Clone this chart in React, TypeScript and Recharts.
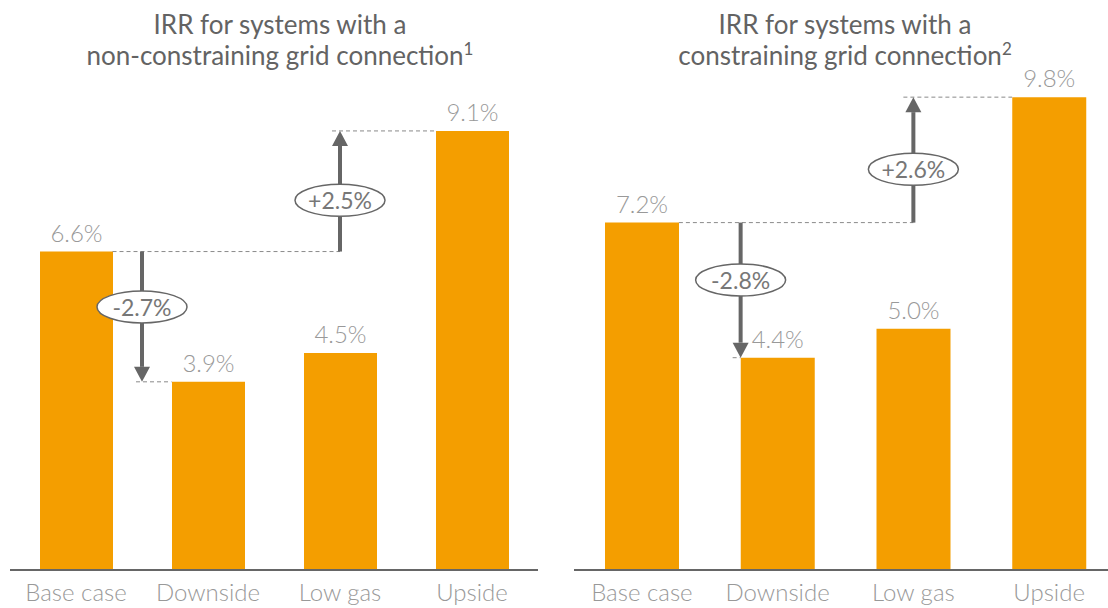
import React from 'react';
import { BarChart, Bar, XAxis, YAxis, ReferenceLine, LabelList } from 'recharts';

const categories = ['Base case', 'Downside', 'Low gas', 'Upside'];
const unconstrainedIrr = [6.6, 3.9, 4.5, 9.1];
const constrainedIrr = [7.2, 4.4, 5.0, 9.8];
const leftTitle = ['IRR for systems with a', 'non-constraining grid connection'];
const rightTitle = ['IRR for systems with a', 'constraining grid connection'];
const footnoteMarks = ['1', '2'];

const ORANGE = '#F49E00';
const DARK = '#666666';
const LABEL = '#999999';

const pct = (v: number) => `${v.toFixed(1)}%`;
const signedPct = (v: number) => `${v > 0 ? '+' : ''}${v.toFixed(1)}%`;

// dashed guide, optionally trimmed at either end so it stops at a bar edge
const Guide = ({ x1, y1, x2, dx1 = 0, dx2 = 0 }: any) => (
  <line
    x1={x1 + dx1}
    y1={y1}
    x2={x2 + dx2}
    y2={y1}
    stroke="#8a8a8a"
    strokeWidth={1}
    strokeDasharray="4 3"
  />
);

// vertical arrow between two levels with the change in an ellipse
const StepArrow = ({ x1, y1, y2, dx = 0, label }: any) => {
  const x = x1 + dx;
  const dir = y2 > y1 ? 1 : -1;
  const head = 15;
  const cy = y1 + (y2 - y1) * 0.425;
  return (
    <g>
      <line x1={x} y1={y1} x2={x} y2={y2 - dir * head} stroke={DARK} strokeWidth={4} />
      <polygon
        points={`${x - 8},${y2 - dir * head} ${x + 8},${y2 - dir * head} ${x},${y2}`}
        fill={DARK}
      />
      <ellipse cx={x} cy={cy} rx={45} ry={16} fill="#fff" stroke={DARK} strokeWidth={1.5} />
      <text
        x={x}
        y={cy}
        textAnchor="middle"
        dominantBaseline="central"
        fill="#777"
        fontSize={23}
        fontFamily="Lato"
      >
        {label}
      </text>
    </g>
  );
};

interface PanelProps {
  values: number[];
  title: string[];
  mark: string;
  left: number;
  titleCenter: number;
  margin: { top: number; right: number; left: number; bottom: number };
  barSize: number;
  variant: 'left' | 'right';
}

function Panel({ values, title, mark, left, titleCenter, margin, barSize, variant }: PanelProps) {
  const data = categories.map((name, i) => ({ name, irr: values[i] }));
  const [base, down, , up] = values;
  const half = barSize / 2;
  const downDelta = signedPct(Math.round((down - base) * 10) / 10);
  const upDelta = signedPct(Math.round((up - base) * 10) / 10);

  return (
    <>
      <div
        style={{
          position: 'absolute',
          left: titleCenter - 280,
          top: 9,
          width: 560,
          textAlign: 'center',
          fontFamily: 'Lato',
          fontSize: 26,
          fontWeight: 400,
          lineHeight: '31px',
          color: '#636363',
        }}
      >
        <div>{title[0]}</div>
        <div>
          {title[1]}
          <span style={{ fontSize: 17, position: 'relative', top: -10 }}>{mark}</span>
        </div>
      </div>
      <div style={{ position: 'absolute', left, top: 0 }}>
        <BarChart width={560} height={608} data={data} margin={margin}>
          <XAxis
            dataKey="name"
            height={38}
            interval={0}
            axisLine={{ stroke: DARK, strokeWidth: 2 }}
            tickLine={false}
            tickMargin={8}
            tick={{ fill: LABEL, fontSize: 24, fontFamily: 'Lato', fontWeight: 300 }}
          />
          <YAxis hide domain={[0, 10]} />
          <Bar dataKey="irr" fill={ORANGE} barSize={barSize} isAnimationActive={false}>
            <LabelList
              dataKey="irr"
              position="top"
              offset={10}
              formatter={(v: any) => pct(Number(v))}
              fill={LABEL}
              fontSize={24}
              fontFamily="Lato"
              fontWeight={300}
            />
          </Bar>

          {/* base level carried across to the upside arrow */}
          <ReferenceLine
            ifOverflow="visible"
            segment={[{ x: 'Base case', y: base }, { x: 'Low gas', y: base }]}
            shape={(p: any) => <Guide {...p} dx1={half} />}
          />
          {/* downside level */}
          {variant === 'left' ? (
            <ReferenceLine
              ifOverflow="visible"
              segment={[{ x: 'Base case', y: down }, { x: 'Downside', y: down }]}
              shape={(p: any) => <Guide {...p} dx1={60} dx2={-half} />}
            />
          ) : (
            <ReferenceLine
              ifOverflow="visible"
              segment={[{ x: 'Downside', y: down }, { x: 'Downside', y: down }]}
              shape={(p: any) => <Guide {...p} dx1={-half - 8} dx2={-half} />}
            />
          )}
          {/* upside level */}
          <ReferenceLine
            ifOverflow="visible"
            segment={[{ x: 'Low gas', y: up }, { x: 'Upside', y: up }]}
            shape={(p: any) => <Guide {...p} dx1={variant === 'left' ? -8 : -10} dx2={-half} />}
          />

          {variant === 'left' ? (
            <ReferenceLine
              ifOverflow="visible"
              position="end"
              segment={[{ x: 'Base case', y: base }, { x: 'Base case', y: down }]}
              shape={(p: any) => <StepArrow {...p} label={downDelta} />}
            />
          ) : (
            <ReferenceLine
              ifOverflow="visible"
              segment={[{ x: 'Downside', y: base }, { x: 'Downside', y: down }]}
              shape={(p: any) => <StepArrow {...p} dx={-half} label={downDelta} />}
            />
          )}
          <ReferenceLine
            ifOverflow="visible"
            segment={[{ x: 'Low gas', y: base }, { x: 'Low gas', y: up }]}
            shape={(p: any) => <StepArrow {...p} label={upDelta} />}
          />
        </BarChart>
      </div>
    </>
  );
}

export default function App() {
  return (
    <div
      style={{
        position: 'absolute',
        left: 0,
        top: 0,
        width: 1108,
        height: 608,
        overflow: 'hidden',
        background: '#fff',
      }}
    >
      <Panel
        values={unconstrainedIrr}
        title={leftTitle}
        mark={footnoteMarks[0]}
        left={0}
        titleCenter={280}
        margin={{ top: 87.5, right: 22, left: 10, bottom: 0 }}
        barSize={73}
        variant="left"
      />
      <Panel
        values={constrainedIrr}
        title={rightTitle}
        mark={footnoteMarks[1]}
        left={560}
        titleCenter={845}
        margin={{ top: 87.5, right: 3, left: 14, bottom: 0 }}
        barSize={74}
        variant="right"
      />
    </div>
  );
}
